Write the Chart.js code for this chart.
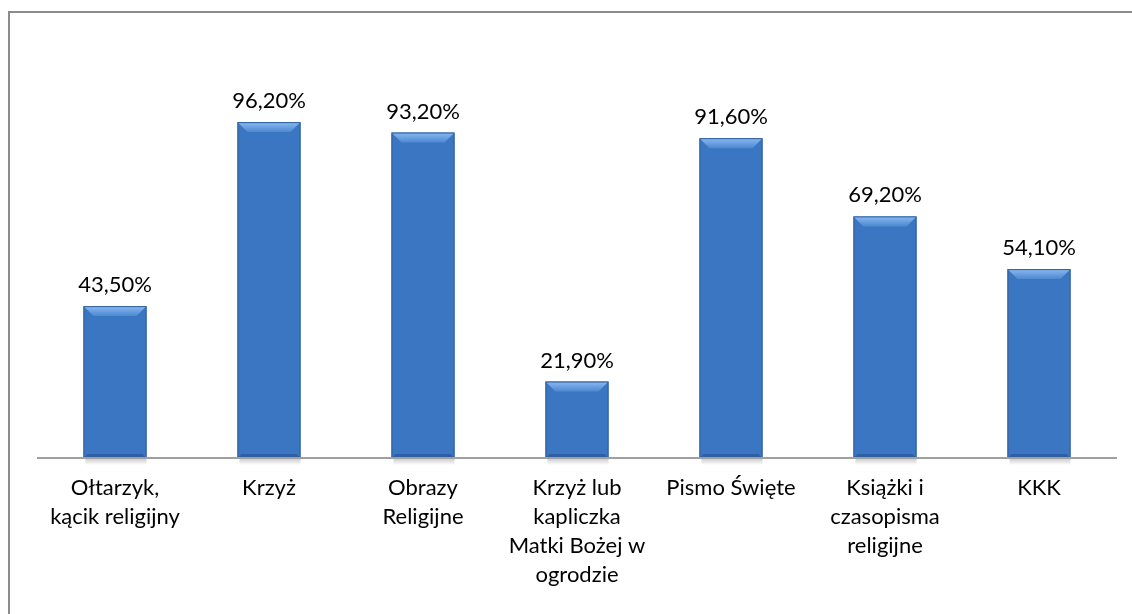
<!DOCTYPE html>
<html>
<head>
<meta charset="utf-8">
<script src="https://cdn.jsdelivr.net/npm/chart.js@4"></script>
<style>
  html, body { margin: 0; padding: 0; background: #fff; overflow: hidden; }
  #wrap { position: relative; width: 1132px; height: 614px; }
  #frame {
    position: absolute; left: 8px; top: 11px; width: 1200px; height: 700px;
    border-left: 2px solid #8c8c8c; border-top: 2px solid #8c8c8c;
    pointer-events: none;
  }
  canvas { position: absolute; left: 0; top: 0; }
</style>
</head>
<body>
<div id="wrap">
  <canvas id="graph" width="1132" height="614"></canvas>
  <div id="frame"></div>
</div>
<script>
// -------------------------
// DATA
// -------------------------
const categories = [
  ["Ołtarzyk,", "kącik religijny"],
  ["Krzyż"],
  ["Obrazy", "Religijne"],
  ["Krzyż lub", "kapliczka", "Matki Bożej w", "ogrodzie"],
  ["Pismo Święte"],
  ["Książki i", "czasopisma", "religijne"],
  ["KKK"]
];
const values = [43.5, 96.2, 93.2, 21.9, 91.6, 69.2, 54.1];
const valueLabels = ["43,50%", "96,20%", "93,20%", "21,90%", "91,60%", "69,20%", "54,10%"];

const FONT = "Lato, 'Liberation Sans', sans-serif";

// -------------------------
// BAR FILL (horizontal bevel gradient)
// -------------------------
function barFill(ctx) {
  const el = ctx.element;
  const c = ctx.chart.ctx;
  if (!el || el.width === undefined) return "#3b76c3";
  const x0 = el.x - el.width / 2, x1 = el.x + el.width / 2;
  const g = c.createLinearGradient(x0, 0, x1, 0);
  g.addColorStop(0, "#3a6db2");
  g.addColorStop(0.07, "#4f8ad3");
  g.addColorStop(0.14, "#3f7bc8");
  g.addColorStop(0.86, "#3a74c0");
  g.addColorStop(0.93, "#2e62a6");
  g.addColorStop(1, "#214c86");
  return g;
}

// -------------------------
// PLUGINS
// -------------------------
const shadowPlugin = {
  id: "barShadow",
  beforeDatasetsDraw(chart) {
    const c = chart.ctx;
    chart.getDatasetMeta(0).data.forEach((bar) => {
      const l = bar.x - bar.width / 2, b = bar.base;
      const g = c.createLinearGradient(0, b, 0, b + 7);
      g.addColorStop(0, "rgba(0,0,0,0.22)");
      g.addColorStop(1, "rgba(0,0,0,0)");
      c.save();
      c.fillStyle = g;
      c.fillRect(l + 2, b, bar.width - 2, 7);
      c.restore();
    });
  }
};

const bevelPlugin = {
  id: "bevel",
  afterDatasetsDraw(chart) {
    const c = chart.ctx;
    chart.getDatasetMeta(0).data.forEach((bar) => {
      const l = bar.x - bar.width / 2, r = bar.x + bar.width / 2;
      const t = bar.y, b = bar.base, d = 10;
      c.save();
      // top bevel
      const gt = c.createLinearGradient(0, t, 0, t + d);
      gt.addColorStop(0, "#8ab9ef");
      gt.addColorStop(1, "#4d88d2");
      c.fillStyle = gt;
      c.beginPath();
      c.moveTo(l, t); c.lineTo(r, t); c.lineTo(r - d, t + d); c.lineTo(l + d, t + d);
      c.closePath(); c.fill();
      // bottom bevel
      c.fillStyle = "rgba(25,55,100,0.35)";
      c.beginPath();
      c.moveTo(l, b); c.lineTo(r, b); c.lineTo(r - 4, b - 4); c.lineTo(l + 4, b - 4);
      c.closePath(); c.fill();
      // outline
      c.strokeStyle = "#2f5d99";
      c.lineWidth = 1;
      c.strokeRect(l + 0.5, t + 0.5, bar.width - 1, b - t - 1);
      c.restore();
    });
  }
};

const labelPlugin = {
  id: "valueLabels",
  afterDatasetsDraw(chart) {
    const c = chart.ctx;
    c.save();
    c.font = "22px " + FONT;
    c.fillStyle = "#000";
    c.textAlign = "center";
    c.textBaseline = "bottom";
    chart.getDatasetMeta(0).data.forEach((bar, i) => {
      c.fillText(valueLabels[i], bar.x, bar.y - 10);
    });
    c.restore();
  }
};

// -------------------------
// INIT CHART
// -------------------------
function initChart() {
  const ctx = document.getElementById("graph").getContext("2d");
  new Chart(ctx, {
    type: "bar",
    data: {
      labels: categories,
      datasets: [{
        data: values,
        backgroundColor: barFill,
        borderWidth: 0,
        categoryPercentage: 1,
        barPercentage: 0.41
      }]
    },
    options: {
      responsive: false,
      animation: false,
      events: [],
      layout: { padding: { left: 38, right: 16, top: 39, bottom: 0 } },
      plugins: { legend: { display: false }, tooltip: { enabled: false } },
      scales: {
        y: { display: false, min: 0, max: 120 },
        x: {
          grid: { display: false },
          border: { display: true, color: "#a0a0a0", width: 2, z: 1 },
          ticks: {
            color: "#000",
            padding: 7,
            maxRotation: 0,
            autoSkip: false,
            font: { family: FONT, size: 22, lineHeight: 1.32 }
          },
          afterFit(scale) { scale.height = 156; }
        }
      }
    },
    plugins: [shadowPlugin, bevelPlugin, labelPlugin]
  });
}

initChart();
</script>
</body>
</html>
